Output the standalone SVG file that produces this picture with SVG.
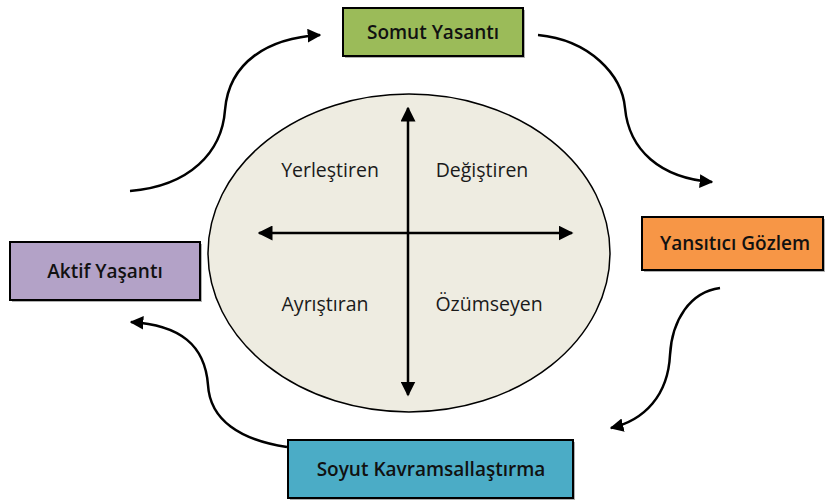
<svg xmlns="http://www.w3.org/2000/svg" width="825" height="500" viewBox="0 0 825 500">
<defs>
<marker id="ah" viewBox="0 0 10 10" refX="9" refY="5" markerWidth="5.5" markerHeight="5.5" orient="auto-start-reverse" markerUnits="strokeWidth"><path d="M0,0 L10,5 L0,10 z" fill="#000"/></marker>
<marker id="ah2" viewBox="0 0 10 10" refX="9" refY="5" markerWidth="6" markerHeight="6" orient="auto-start-reverse" markerUnits="strokeWidth"><path d="M0,0 L10,5 L0,10 z" fill="#000"/></marker>
<style>
.box{stroke:#000;stroke-width:2}
.shadow{fill:#b0b0b0}
.lbl{font-family:"Open Sans","Noto Sans",sans-serif;font-size:19px;font-weight:600;fill:#111;text-anchor:middle}
.q{font-family:"Open Sans","Noto Sans",sans-serif;font-size:19.5px;fill:#1a1a1a;text-anchor:middle}
.c{fill:none;stroke:#000;stroke-width:2.5}
</style>
</defs>
<rect width="825" height="500" fill="#fff"/>
<g id="center">
<ellipse cx="409" cy="253" rx="201" ry="159" fill="#EEECE1" stroke="#000" stroke-width="1.5"/>
<line x1="408" y1="395" x2="408" y2="108" class="c" stroke-width="2" marker-start="url(#ah2)" marker-end="url(#ah2)"/>
<line x1="259" y1="233" x2="572" y2="233" class="c" stroke-width="2" marker-start="url(#ah2)" marker-end="url(#ah2)"/>
<text x="330" y="177" class="q">Yerleştiren</text>
<text x="482" y="177" class="q">Değiştiren</text>
<text x="325" y="311" class="q">Ayrıştıran</text>
<text x="489" y="311" class="q">Özümseyen</text>
</g>
<g id="somut">
<rect x="345" y="10" width="180" height="48" class="shadow"/>
<rect x="343" y="8" width="180" height="48" fill="#9BBB59" class="box"/>
<text x="433" y="39" class="lbl">Somut Yasantı</text>
</g>
<g id="yansitici">
<rect x="644" y="219" width="183" height="53" class="shadow"/>
<rect x="642" y="217" width="181" height="53" fill="#F79646" class="box"/>
<text x="735" y="250" class="lbl">Yansıtıcı Gözlem</text>
</g>
<g id="soyut">
<rect x="290" y="442" width="285" height="58" class="shadow"/>
<rect x="288" y="440" width="285" height="58" fill="#4BACC6" class="box"/>
<text x="431" y="476" class="lbl">Soyut Kavramsallaştırma</text>
</g>
<g id="aktif">
<rect x="12" y="244" width="190" height="58" class="shadow"/>
<rect x="10" y="242" width="190" height="58" fill="#B3A2C7" class="box"/>
<text x="105" y="278" class="lbl">Aktif Yaşantı</text>
</g>
<g id="connectors">
<path class="c" marker-end="url(#ah)" d="M130,191 C190,186 222,152 225,110 C229,62 268,38 320,35"/>
<path class="c" marker-end="url(#ah)" d="M538,35 C590,40 622,75 625,108 C629,150 660,178 712,182"/>
<path class="c" marker-end="url(#ah)" d="M720,288 C690,292 672,320 670,355 C668,395 645,420 611,428"/>
<path class="c" marker-end="url(#ah)" d="M287,447 C240,440 210,420 208,385 C205,345 180,325 131,322"/>
</g>
</svg>
